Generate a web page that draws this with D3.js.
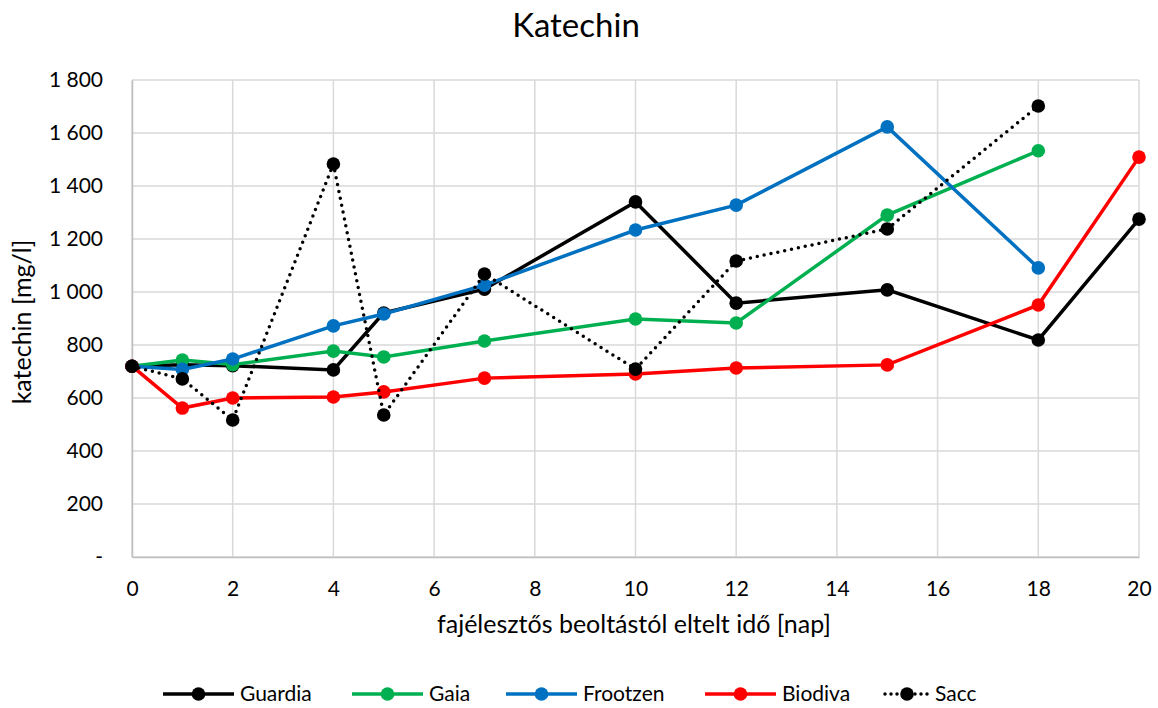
<!DOCTYPE html>
<html>
<head>
<meta charset="utf-8">
<script src="https://cdn.jsdelivr.net/npm/d3@7"></script>
<style>
body { margin: 0; background: #fff; font-family: Lato, "Open Sans", sans-serif; }
</style>
</head>
<body>
<div class="chart"></div>
<script>
const width = 1158;
const height = 708;
const margin = { top: 80, right: 19, bottom: 151, left: 132 };

// days after inoculation
const days = [0, 1, 2, 4, 5, 7, 10, 12, 15, 18, 20];
const guardia = [720, 725, 722, 706, 921, 1011, 1340, 958, 1008, 819, 1275];
const gaia = [720, 743, 726, 777, 755, 815, 898, 883, 1290, 1533, null];
const frootzen = [720, 708, 747, 872, 917, 1026, 1234, 1328, 1623, 1091, null];
const biodiva = [720, 562, 600, 604, 623, 675, 691, 713, 725, 951, 1509];
const sacc = [720, 672, 517, 1483, 536, 1068, 709, 1117, 1238, 1702, null];

const seriesNames = ["Guardia", "Gaia", "Frootzen", "Biodiva", "Sacc"];
const seriesValues = [guardia, gaia, frootzen, biodiva, sacc];
const seriesColors = ["#000000", "#00b050", "#0070c0", "#ff0000", "#000000"];
const xTicks = [0, 2, 4, 6, 8, 10, 12, 14, 16, 18, 20];
const yTicks = [0, 200, 400, 600, 800, 1000, 1200, 1400, 1600, 1800];

const svg = d3.select(".chart").append("svg")
    .attr("width", width)
    .attr("height", height);

const x = d3.scaleLinear().domain([0, 20]).range([margin.left, width - margin.right]);
const y = d3.scaleLinear().domain([0, 1800]).range([height - margin.bottom, margin.top]);

// grid
svg.append("g").selectAll("line").data(yTicks).enter().append("line")
    .attr("x1", x(0)).attr("x2", x(20))
    .attr("y1", d => y(d)).attr("y2", d => y(d))
    .attr("stroke", "#d9d9d9").attr("stroke-width", 1.5);
svg.append("g").selectAll("line").data(xTicks).enter().append("line")
    .attr("x1", d => x(d)).attr("x2", d => x(d))
    .attr("y1", y(0)).attr("y2", y(1800))
    .attr("stroke", "#d9d9d9").attr("stroke-width", 1.5);

const fmt = v => v === 0 ? "-" : d3.format(",")(v).replace(",", " ");

// axes
const xAxis = svg.append("g")
    .attr("transform", `translate(0,${y(0)})`)
    .call(d3.axisBottom(x).tickValues(xTicks).tickSize(0).tickPadding(24));
xAxis.select(".domain").attr("stroke", "#bfbfbf").attr("stroke-width", 1.5);
xAxis.selectAll("text").attr("font-size", 21).attr("fill", "#000")
    .attr("font-family", "Lato, 'Open Sans', sans-serif");

const yAxis = svg.append("g")
    .attr("transform", `translate(${x(0)},0)`)
    .call(d3.axisLeft(y).tickValues(yTicks).tickFormat(fmt).tickSize(0).tickPadding(29));
yAxis.select(".domain").attr("stroke", "#bfbfbf").attr("stroke-width", 1.5);
yAxis.selectAll("text").attr("font-size", 21).attr("fill", "#000")
    .attr("font-family", "Lato, 'Open Sans', sans-serif");

// title and labels
svg.append("text")
    .text("Katechin")
    .attr("x", 576).attr("y", 37)
    .attr("text-anchor", "middle")
    .attr("font-size", 33);

svg.append("text")
    .text("fajélesztős beoltástól eltelt idő [nap]")
    .attr("x", 634).attr("y", 633)
    .attr("text-anchor", "middle")
    .attr("font-size", 25);

svg.append("text")
    .text("katechin [mg/l]")
    .attr("transform", `translate(31,322) rotate(-90)`)
    .attr("text-anchor", "middle")
    .attr("font-size", 25);

// lines
const line = d3.line()
    .defined(d => d.v !== null)
    .x(d => x(d.day))
    .y(d => y(d.v));

seriesNames.forEach((name, i) => {
    const pts = days.map((day, j) => ({ day: day, v: seriesValues[i][j] }));
    const dotted = name === "Sacc";
    svg.append("path")
        .datum(pts)
        .attr("d", line)
        .attr("fill", "none")
        .attr("stroke", seriesColors[i])
        .attr("stroke-width", 3.5)
        .attr("stroke-linecap", dotted ? "round" : "butt")
        .attr("stroke-dasharray", dotted ? "0 7" : null);
    svg.append("g").selectAll("circle")
        .data(pts.filter(d => d.v !== null))
        .enter().append("circle")
        .attr("cx", d => x(d.day))
        .attr("cy", d => y(d.v))
        .attr("r", 6.8)
        .attr("fill", seriesColors[i]);
});

// legend
const legendX = [163, 352, 506, 705, 885];
const legendLen = [71, 71, 71, 71, 44];
const legend = svg.append("g");
seriesNames.forEach((name, i) => {
    const dotted = name === "Sacc";
    const g = legend.append("g").attr("transform", `translate(${legendX[i]},694)`);
    g.append("line")
        .attr("x1", 0).attr("x2", legendLen[i])
        .attr("stroke", seriesColors[i])
        .attr("stroke-width", 3.5)
        .attr("stroke-linecap", dotted ? "round" : "butt")
        .attr("stroke-dasharray", dotted ? "0 6" : null);
    g.append("circle").attr("cx", legendLen[i] / 2).attr("r", 6.8).attr("fill", seriesColors[i]);
    g.append("text")
        .text(name)
        .attr("x", legendLen[i] + 6).attr("y", 7)
        .attr("font-size", 21);
});
</script>
</body>
</html>
